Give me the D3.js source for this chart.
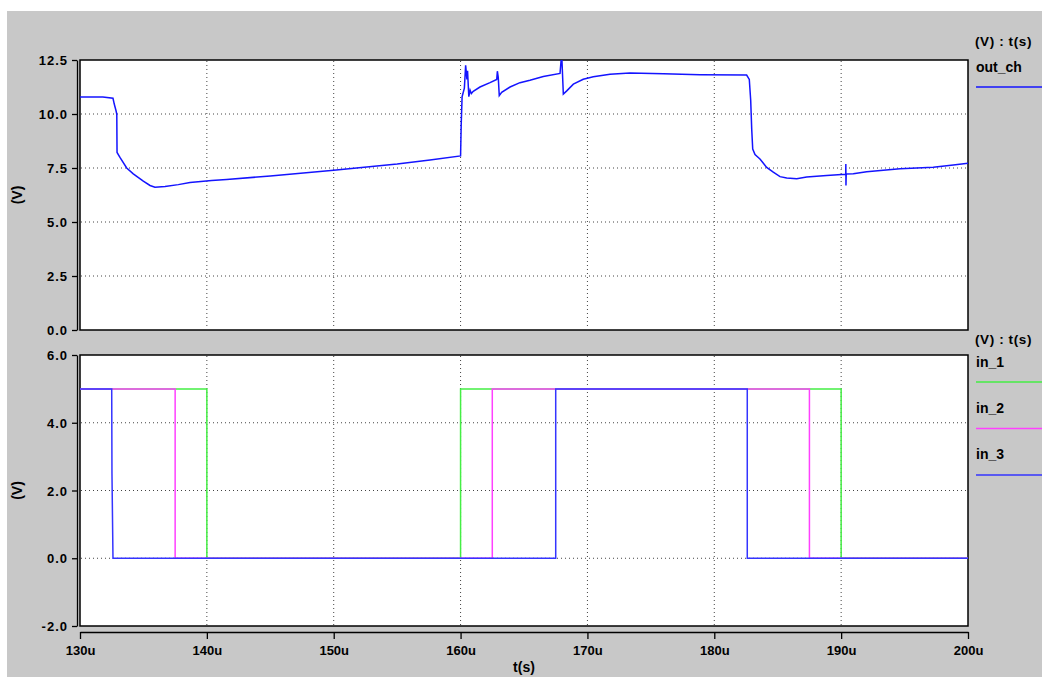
<!DOCTYPE html>
<html><head><meta charset="utf-8">
<script src="https://cdn.jsdelivr.net/npm/d3@7"></script>
<style>
html,body{margin:0;padding:0;background:#fff;}
svg text{font-family:"Liberation Sans",Arial,sans-serif;font-weight:bold;fill:#000;}
</style></head>
<body>
<svg id="c" width="1042" height="677"></svg>
<script>
// ---- data ----
const xTicks = [130,140,150,160,170,180,190,200];
const topTicks = [0,2.5,5,7.5,10,12.5];
const botTicks = [-2,0,2,4,6];

const outT = [130,131.8,132.6,132.7,132.84,132.9,132.92,133.15,133.68,134.2,134.99,135.52,135.91,136.7,137.75,138.67,140.38,141.56,145,150,155,157.59,160.0,160.05,160.12,160.3,160.4,160.5,160.55,160.65,160.75,160.85,161.0,161.53,162.32,162.85,162.9,162.97,163.05,163.24,163.9,164.68,165.47,166.52,167.84,167.97,168.1,168.37,168.89,169.67,170.46,171.78,173.35,176,178.87,182.55,182.76,182.87,182.95,183.03,183.21,183.6,184.13,184.65,185.18,185.71,186.5,187.28,188.86,190.04,190.36,190.37,190.38,190.4,190.96,192.01,194.64,197.26,198.84,200];
const outV = [10.79,10.79,10.73,10.46,10.15,10.0,8.22,7.99,7.50,7.23,6.89,6.69,6.61,6.64,6.73,6.83,6.92,6.97,7.13,7.40,7.68,7.87,8.06,9.5,10.8,11.2,12.25,11.6,12.0,10.8,11.1,10.95,11.05,11.25,11.45,11.6,11.98,11.7,10.85,11.0,11.25,11.45,11.56,11.74,11.88,12.8,10.92,11.07,11.38,11.61,11.72,11.84,11.9,11.86,11.82,11.80,11.6,10.64,9.3,8.38,8.12,7.92,7.53,7.31,7.10,7.04,7.00,7.08,7.15,7.2,7.21,7.69,6.69,7.22,7.23,7.33,7.46,7.54,7.64,7.72];

const in1T = [130,140,140,160,160,190,190,200];
const in1V = [5,5,0,0,5,5,0,0];
const in2T = [130,137.5,137.5,162.5,162.5,187.5,187.5,200];
const in2V = [5,5,0,0,5,5,0,0];
const in3T = [130,132.5,132.52,132.6,167.5,167.5,182.6,182.6,200];
const in3V = [5,5,2.5,0,0,5,5,0,0];

const colOut = "#1414ff", colIn1 = "#44ee44", colIn2 = "#ff40ff", colIn3 = "#3434ff";

// ---- layout ----
const svg = d3.select("#c");
svg.append("rect").attr("x",7).attr("y",11).attr("width",1035).attr("height",666).attr("fill","#c8c8c8");

const x = d3.scaleLinear().domain([130,200]).range([80,968]);
const yTop = d3.scaleLinear().domain([0,12.5]).range([330,60]);
const yBot = d3.scaleLinear().domain([-2,6]).range([626,355]);

function panel(y, ticks, fmt, series, id){
  const [y0,y1] = y.range(); // bottom, top
  svg.append("rect").attr("x",80).attr("y",y1).attr("width",888).attr("height",y0-y1)
     .attr("fill","#fff").attr("stroke","#000").attr("stroke-width",1.5);
  svg.append("clipPath").attr("id",id).append("rect")
     .attr("x",80).attr("y",y1).attr("width",888).attr("height",y0-y1);
  const g = svg.append("g");
  // grid
  xTicks.slice(1,-1).forEach(t=>{
    g.append("line").attr("x1",x(t)).attr("x2",x(t)).attr("y1",y1+1).attr("y2",y0-1)
     .attr("stroke","#444").attr("stroke-dasharray","1,3");
  });
  ticks.slice(1,-1).forEach(v=>{
    g.append("line").attr("x1",81).attr("x2",967).attr("y1",y(v)).attr("y2",y(v))
     .attr("stroke","#444").attr("stroke-dasharray","1,3");
  });
  // y axis
  const ax = svg.append("g").attr("transform","translate(77,0)")
     .call(d3.axisLeft(y).tickValues(ticks).tickFormat(fmt).tickSize(5).tickSizeOuter(0));
  ax.select(".domain").attr("stroke","#000").attr("stroke-width",1.3);
  ax.selectAll(".tick line").attr("stroke","#000").attr("stroke-width",1.3);
  ax.selectAll(".tick text").attr("x",-9).attr("dy","0.36em")
     .style("font-family","Liberation Sans, Arial, sans-serif").style("font-weight","bold")
     .style("font-size","13px").style("letter-spacing","1px").attr("fill","#000");
  // series
  const line = d3.line().x(d=>x(d[0])).y(d=>y(d[1]));
  series.forEach(s=>{
    svg.append("path").attr("clip-path",`url(#${id})`)
      .datum(s.t.map((t,i)=>[t,s.v[i]]))
      .attr("d",line).attr("fill","none").attr("stroke",s.c).attr("stroke-width",1.5);
  });
  // y label
  svg.append("text").attr("transform",`translate(22,${(y0+y1)/2}) rotate(-90)`)
     .attr("text-anchor","middle").style("font-size","14px").text("(V)");
}

panel(yTop, topTicks, d=>d.toFixed(1), [{t:outT,v:outV,c:colOut}], "clipTop");
panel(yBot, botTicks, d=>d.toFixed(1), [
  {t:in1T,v:in1V,c:colIn1},{t:in2T,v:in2V,c:colIn2},{t:in3T,v:in3V,c:colIn3}], "clipBot");

// x axis
const xa = svg.append("g").attr("transform","translate(0,632)")
  .call(d3.axisBottom(x).tickValues(xTicks).tickFormat(d=>d+"u").tickSize(7).tickSizeOuter(0));
xa.select(".domain").attr("stroke","#000").attr("stroke-width",1.3);
xa.selectAll(".tick line").attr("stroke","#000").attr("stroke-width",1.3);
xa.selectAll(".tick text").attr("y",14).attr("dy","0.71em")
  .style("font-family","Liberation Sans, Arial, sans-serif").style("font-weight","bold")
  .style("font-size","13px").attr("fill","#000");
svg.append("text").attr("x",524).attr("y",672).attr("text-anchor","middle").style("font-size","14px").text("t(s)");

// legends
function legendHeader(yb){
  svg.append("text").attr("x",975).attr("y",yb).style("font-size","13.5px").style("letter-spacing","0.6px").text("(V) : t(s)");
}
function legendItem(name, col, yText, yLine){
  svg.append("text").attr("x",976).attr("y",yText).style("font-size","14px").text(name);
  svg.append("line").attr("x1",976).attr("x2",1042).attr("y1",yLine).attr("y2",yLine)
     .attr("stroke",col).attr("stroke-width",1.5);
}
legendHeader(46);
legendItem("out_ch", colOut, 72, 87);
legendHeader(344);
legendItem("in_1", colIn1, 367, 382);
legendItem("in_2", colIn2, 413, 428.5);
legendItem("in_3", colIn3, 459, 475);
</script>
</body></html>
